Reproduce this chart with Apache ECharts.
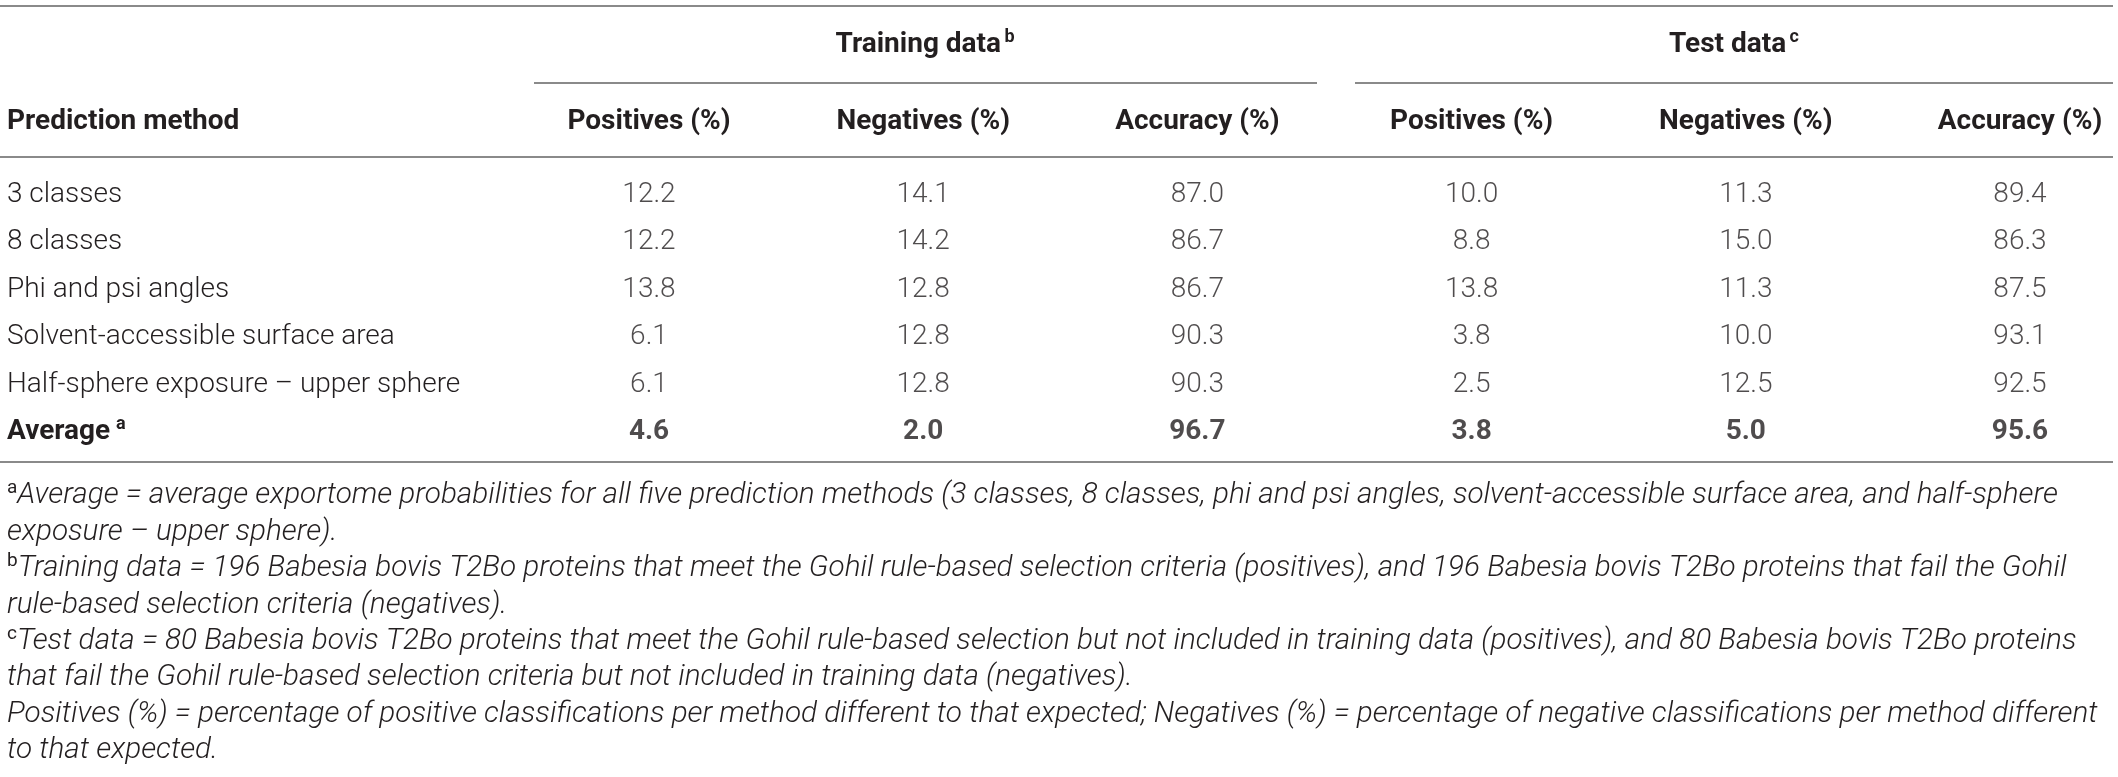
<!DOCTYPE html>
<html><head><meta charset="utf-8">
<script src="https://cdn.jsdelivr.net/npm/echarts@6/dist/echarts.min.js"></script>
<style>html,body{margin:0;padding:0;background:#fff}#c{width:2118px;height:777px}</style>
</head><body><div id="c"></div>
<script>
const methods = ['3 classes', '8 classes', 'Phi and psi angles', 'Solvent-accessible surface area', 'Half-sphere exposure \u2013 upper sphere', 'Average'];
const columnLabels = ['Positives (%)', 'Negatives (%)', 'Accuracy (%)', 'Positives (%)', 'Negatives (%)', 'Accuracy (%)'];
const rowHeader = 'Prediction method';
const trainPositives = [12.2, 12.2, 13.8, 6.1, 6.1, 4.6];
const trainNegatives = [14.1, 14.2, 12.8, 12.8, 12.8, 2.0];
const trainAccuracy  = [87.0, 86.7, 86.7, 90.3, 90.3, 96.7];
const testPositives  = [10.0, 8.8, 13.8, 3.8, 2.5, 3.8];
const testNegatives  = [11.3, 15.0, 11.3, 10.0, 12.5, 5.0];
const testAccuracy   = [89.4, 86.3, 87.5, 93.1, 92.5, 95.6];
const groupHeaders = [['Training data', 'b'], ['Test data', 'c']];
const footnotes = [
  ['a', 'Average = average exportome probabilities for all five prediction methods (3 classes, 8 classes, phi and psi angles, solvent-accessible surface area, and half-sphere'],
  ['', 'exposure \u2013 upper sphere).'],
  ['b', 'Training data = 196 Babesia bovis T2Bo proteins that meet the Gohil rule-based selection criteria (positives), and 196 Babesia bovis T2Bo proteins that fail the Gohil'],
  ['', 'rule-based selection criteria (negatives).'],
  ['c', 'Test data = 80 Babesia bovis T2Bo proteins that meet the Gohil rule-based selection but not included in training data (positives), and 80 Babesia bovis T2Bo proteins'],
  ['', 'that fail the Gohil rule-based selection criteria but not included in training data (negatives).'],
  ['', 'Positives (%) = percentage of positive classifications per method different to that expected; Negatives (%) = percentage of negative classifications per method different'],
  ['', 'to that expected.']
];

const FONT = 'Roboto';
const INK = '#231f20';
const RULE = '#8a8a8a';
const columnsData = [trainPositives, trainNegatives, trainAccuracy, testPositives, testNegatives, testAccuracy];
const lastRow = methods.length - 1;

const cells = [];
columnsData.forEach((col, c) => {
  col.forEach((v, r) => {
    const item = { value: [c, r, v] };
    if (r === lastRow) item.label = { fontWeight: 'bold' };
    cells.push(item);
  });
});

const chart = echarts.init(document.getElementById('c'), null, { renderer: 'canvas' });

const graphics = [];
function hline(x1, x2, y) {
  graphics.push({ type: 'line', shape: { x1: x1, y1: y, x2: x2, y2: y }, style: { stroke: RULE, lineWidth: 2 }, silent: true });
}
hline(0, 2113, 6);
hline(534, 1317, 83);
hline(1355, 2113, 83);
hline(0, 2113, 157);
hline(0, 2113, 462);

const groupX = [925, 1734];
groupHeaders.forEach((g, i) => {
  graphics.push({
    type: 'text', x: groupX[i], y: 45,
    style: {
      text: '{t|' + g[0] + '} {s|' + g[1] + '}',
      align: 'center', verticalAlign: 'middle',
      rich: {
        t: { fontFamily: FONT, fontWeight: 'bold', fontSize: 28, fill: INK, lineHeight: 34 },
        s: { fontFamily: FONT, fontWeight: 'bold', fontSize: 18, fill: INK, verticalAlign: 'top', lineHeight: 34 }
      }
    }
  });
});

graphics.push({
  type: 'text', x: 7, y: 122,
  style: { text: rowHeader, align: 'left', verticalAlign: 'middle', fontFamily: FONT, fontWeight: 'bold', fontSize: 28, fill: INK }
});

footnotes.forEach((f, i) => {
  graphics.push({
    type: 'text', x: 7, y: 496 + i * 36.4,
    style: {
      text: (f[0] ? '{s|' + f[0] + '}' : '') + '{t|' + f[1] + '}',
      align: 'left', verticalAlign: 'middle',
      rich: {
        t: { fontFamily: FONT, fontStyle: 'italic', fontWeight: 300, fontSize: 29.7, fill: INK, lineHeight: 34 },
        s: { fontFamily: FONT, fontSize: 19, fill: INK, verticalAlign: 'top', lineHeight: 34 }
      }
    }
  });
});

chart.setOption({
  animation: false,
  backgroundColor: '#ffffff',
  textStyle: { fontFamily: FONT },
  grid: { left: 649, right: 98, top: 195, bottom: 345 },
  xAxis: {
    type: 'category', position: 'top', boundaryGap: false,
    data: columnLabels.map((_, i) => i),
    axisLine: { show: false }, axisTick: { show: false }, splitLine: { show: false },
    axisLabel: {
      margin: 56, interval: 0,
      formatter: (v, i) => columnLabels[i],
      fontFamily: FONT, fontWeight: 'bold', fontSize: 28, color: INK, lineHeight: 34
    }
  },
  yAxis: {
    type: 'category', inverse: true, boundaryGap: false,
    data: methods,
    axisLine: { show: false }, axisTick: { show: false }, splitLine: { show: false },
    axisLabel: {
      margin: 642, align: 'left', interval: 0,
      formatter: (v, i) => i === lastRow ? '{b|' + v + '}  {s|a}' : '{n|' + v + '}',
      rich: {
        n: { fontFamily: FONT, fontWeight: 300, fontSize: 28, color: INK, lineHeight: 34 },
        b: { fontFamily: FONT, fontWeight: 'bold', fontSize: 28, color: INK, lineHeight: 34 },
        s: { fontFamily: FONT, fontWeight: 'bold', fontSize: 18, color: INK, verticalAlign: 'top', lineHeight: 34 }
      }
    }
  },
  graphic: graphics,
  series: [{
    type: 'scatter',
    data: cells,
    symbolSize: 1,
    itemStyle: { color: 'rgba(0,0,0,0)' },
    silent: true,
    label: {
      show: true, position: 'inside',
      formatter: p => p.value[2].toFixed(1),
      fontFamily: FONT, fontWeight: 300, fontSize: 28, color: INK
    },
    labelLayout: { hideOverlap: false }
  }]
});
</script>
</body></html>
